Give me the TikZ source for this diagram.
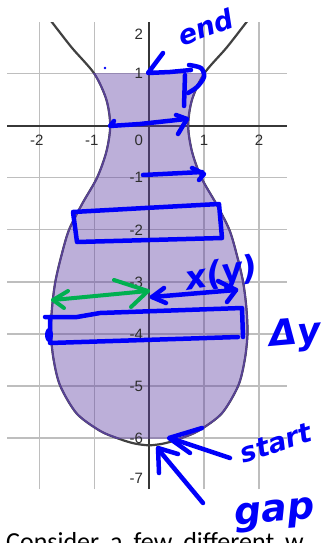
\documentclass[tikz,border=0pt]{standalone}
\usepackage{fontspec}
\newfontfamily\labelfont{Liberation Sans}
\newfontfamily\handfont{DejaVu Sans Bold Oblique}
\newfontfamily\bodyfont{Carlito}
\definecolor{gridgray}{RGB}{190,190,190}
\definecolor{axisgray}{RGB}{55,55,55}
\definecolor{curvegray}{RGB}{65,65,65}
\definecolor{regionpurple}{RGB}{96,66,166}
\definecolor{regionline}{RGB}{88,66,150}
\definecolor{labelgray}{RGB}{45,45,45}
\definecolor{ink}{RGB}{0,0,250}
\definecolor{greenink}{RGB}{0,176,80}
\tikzset{
  gridline/.style={draw=gridgray, line width=1.3pt},
  axisline/.style={draw=axisgray, line width=2pt},
  curveline/.style={draw=curvegray, line width=2.2pt},
  boundline/.style={draw=regionline, line width=1.7pt},
  regionfill/.style={fill=regionpurple, fill opacity=0.42},
  ticklabel/.style={font=\labelfont\fontsize{15}{15}\selectfont, text=labelgray, inner sep=0pt},
  stroke/.style={draw=ink, line width=4.5pt, line cap=round, line join=round},
  greenstroke/.style={draw=greenink, line width=4pt, line cap=round, line join=round},
  handtext/.style={text=ink, inner sep=0pt},
}
\newcommand{\vasepath}{plot[smooth] coordinates {(-2.08,2.4) (-1.78,2) (-1.41,1.5) (-1.0,1.0) (-0.78,0.5) (-0.71,0) (-0.78,-0.5) (-0.95,-1) (-1.22,-1.5) (-1.46,-2) (-1.6,-2.5) (-1.71,-3) (-1.77,-3.5) (-1.79,-4) (-1.74,-4.5) (-1.62,-5) (-1.32,-5.53) (-0.9,-5.86) (-0.59,-6.0) (-0.29,-6.1) (0,-6.14) (0.29,-6.1) (0.59,-6) (0.9,-5.86) (1.32,-5.53) (1.62,-5) (1.74,-4.5) (1.79,-4) (1.77,-3.5) (1.71,-3) (1.6,-2.5) (1.46,-2) (1.22,-1.5) (0.95,-1) (0.78,-0.5) (0.71,0) (0.78,0.5) (1.0,1.0) (1.41,1.5) (1.78,2) (2.08,2.4)}}
\begin{document}
\begin{tikzpicture}[x=1pt,y=-1pt]
\useasboundingbox (0,0) rectangle (323,543);
\clip (0,0) rectangle (323,543);
\fill[white] (0,0) rectangle (323,543);

\begin{scope}[shift={(149.2pt,-125.7pt)}, x=54.9pt, y=52.05pt]
  % grid
  \foreach \i in {-2,-1,1,2} \draw[gridline] (\i,-6.98) -- (\i,1.99);
  \foreach \j in {-6,-5,-4,-3,-2,-1,1} \draw[gridline] (-2.59,\j) -- (2.51,\j);
  % axes
  \draw[axisline] (-2.59,0) -- (2.51,0);
  \draw[axisline] (0,-6.98) -- (0,1.99);
  % full curve
  \begin{scope}
    \clip (-2.59,-6.98) rectangle (2.51,1.99);
    \draw[curveline] \vasepath;
  \end{scope}
  % shaded region between y=-6 and y=1
  \begin{scope}
    \clip (-3,-6) rectangle (3,1);
    \fill[regionfill] \vasepath -- cycle;
    \draw[boundline] \vasepath;
  \end{scope}
  % x tick labels
  \node[ticklabel] (xlm2) at (-2,-0.275) {\llap{-}2};
  \node[ticklabel] (xlm1) at (-1,-0.275) {\llap{-}1};
  \node[ticklabel] (xl1) at (1,-0.275) {1};
  \node[ticklabel] (xl2) at (2,-0.275) {2};
  \node[ticklabel, anchor=east] (xl0) at (-0.11,-0.275) {0};
  % y tick labels
  \node[ticklabel, anchor=east] (yl2) at (-0.11,1.76) {2};
  \node[ticklabel, anchor=east] (yl1) at (-0.11,1) {1};
  \foreach \j in {1,...,6} \node[ticklabel, anchor=east] (ylm\j) at (-0.11,-\j) {-\j};
  \node[ticklabel, anchor=east] (ylm7) at (-0.11,-6.77) {-7};
\end{scope}

% bottom text (cut off)
\node[anchor=base west, inner sep=0pt, font=\bodyfont\fontsize{26}{26}\selectfont] (consider) at (6,550) {\spaceskip=11pt Consider a few different w};

% ---- handwritten ink ----
\fill[ink] (105,68) circle (1.4);
% end arrow
\draw[stroke] (163,53) -- (148,73) -- (170,72) -- (191,70);
\draw[stroke] plot[smooth] coordinates {(189,65) (201,68) (204,77) (197,87) (188,93)};
\draw[stroke] (185,75) -- (184,106);
% y=0 arrow
\draw[stroke] (114,121) -- (110,126) -- (140,124) -- (186,119);
\draw[stroke] (176,115) -- (187,119) -- (178,134);
% y=-1 arrow
\draw[stroke] (143,175) -- (202,172);
\draw[stroke] (192,168) -- (204,174) -- (199,180);
% rectangle near y=-2
\draw[stroke] (73,212) -- (145,208) -- (219,204) -- (222,238) -- (150,240) -- (77,242) -- cycle;
% green arrow
\draw[greenstroke] (53,300) -- (148,291);
\draw[greenstroke] (68,291) -- (53,300) -- (64,308);
\draw[greenstroke] (114,280) -- (148,291) -- (131,307);
% x(y) arrow
\draw[stroke] (152,297) -- (236,290);
\draw[stroke] (164,288) -- (152,297) -- (166,303);
\draw[stroke] (218,281) -- (236,290) -- (227,302);
% big rectangle
\draw[stroke] (45,317) -- (77,317) -- (100,313) -- (242,308) -- (243,337);
\draw[stroke] (50,317) -- (50,343) -- (238,337);
\fill[ink] (49,335) ellipse (4 and 7);
% start arrow
\draw[stroke] (230,458) -- (170,438);
\draw[stroke] (202,428) -- (169,438) -- (190,453);
% gap arrow
\draw[stroke] (203,503) -- (158,449);
\draw[stroke] (159,473) -- (158,448) -- (178,454);

% handwritten words
\node[handtext, rotate=20, font=\handfont\fontsize{27}{27}\selectfont] (endword) at (206,27) {end};
\node[handtext, rotate=10, font=\handfont\fontsize{33}{33}\selectfont] (xyword) at (222,275) {x(y)};
\node[handtext, rotate=5, font=\handfont\fontsize{36}{36}\selectfont] (dyword) at (295,335) {Δy};
\node[handtext, rotate=18, font=\handfont\fontsize{27}{27}\selectfont] (startword) at (276,443) {start};
\node[handtext, rotate=5, font=\handfont\fontsize{38}{38}\selectfont] (gapword) at (275,515) {gap};
\end{tikzpicture}
\end{document}
